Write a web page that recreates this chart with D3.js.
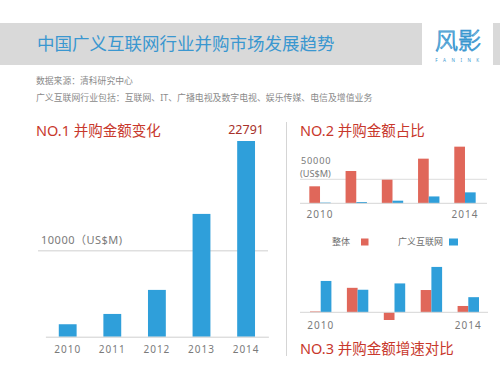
<!DOCTYPE html>
<html>
<head>
<meta charset="utf-8">
<script src="https://cdn.jsdelivr.net/npm/d3@7"></script>
<style>
  body { margin: 0; background: #fff; }
  svg text { font-family: "Noto Sans", "Noto Sans CJK SC", sans-serif; }
</style>
</head>
<body>
<div id="container"></div>
<script>
// data
const years = ["2010", "2011", "2012", "2013", "2014"];
const dealValue = [1450, 2650, 5450, 14300, 22791];          // 广义互联网, US$M
const totalValue = [35400, 67300, 49200, 93000, 118000];     // 整体, US$M
const totalGrowth = [3, 89, -28, 81, 23];                    // %
const netGrowth = [114, 82, 105, 165, 55];                   // %
const seriesNames = ["整体", "广义互联网"];

const width = 500;
const height = 375;
const blue = "#2f9fda";
const red = "#e0675a";
const titleRed = "#c8382c";
const grey = "#7a7a7a";

const svg = d3.select("#container").append("svg")
    .attr("width", width)
    .attr("height", height);

// header band
svg.append("rect").attr("x", 0).attr("y", 23).attr("width", 500).attr("height", 42).attr("fill", "#d9d9d9");
svg.append("rect").attr("x", 422).attr("y", 23).attr("width", 71).attr("height", 42).attr("fill", "#fff");
svg.append("text")
    .attr("x", 37).attr("y", 50)
    .attr("font-size", 17.5)
    .attr("fill", "#3a97d0")
    .text("中国广义互联网行业并购市场发展趋势");

// logo
svg.append("text")
    .attr("x", 458).attr("y", 49)
    .attr("text-anchor", "middle")
    .attr("font-size", 23)
    .attr("font-weight", 300)
    .attr("fill", "none")
    .attr("stroke", "#3a97d0")
    .attr("stroke-width", 0.9)
    .text("风影");
svg.append("text")
    .attr("x", 460).attr("y", 61.5)
    .attr("text-anchor", "middle")
    .attr("font-size", 4.5)
    .attr("letter-spacing", 5.5)
    .attr("fill", "#3a97d0")
    .text("FANINK");

// source lines
svg.append("text").attr("x", 36).attr("y", 84).attr("font-size", 8.8).attr("fill", "#8a8a8a")
    .text("数据来源：清科研究中心");
svg.append("text").attr("x", 36).attr("y", 100.5).attr("font-size", 8.9).attr("fill", "#8a8a8a")
    .text("广义互联网行业包括：互联网、IT、广播电视及数字电视、娱乐传媒、电信及增值业务");

// divider
svg.append("line").attr("x1", 286.5).attr("x2", 286.5).attr("y1", 122).attr("y2", 356)
    .attr("stroke", "#d5d5d5");

// ---------- NO.1 ----------
svg.append("text").attr("x", 36).attr("y", 135.5).attr("font-size", 14.5).attr("fill", titleRed)
    .text("NO.1 并购金额变化");

const x1 = d3.scaleBand().domain(years).range([45.4, 268.4]).paddingInner(0.6).paddingOuter(0.3);
const y1 = d3.scaleLinear().domain([0, 22791]).range([336.7, 141]);

svg.append("line")
    .attr("x1", 38).attr("x2", 268)
    .attr("y1", y1(10000)).attr("y2", y1(10000))
    .attr("stroke", "#cfcfcf");
svg.append("text").attr("x", 41).attr("y", y1(10000) - 7).attr("font-size", 11).attr("fill", grey)
    .attr("letter-spacing", 0.5)
    .text("10000（US$M)");

svg.append("g").selectAll("rect")
    .data(dealValue)
    .join("rect")
    .attr("x", (d, i) => x1(years[i]))
    .attr("y", d => y1(d))
    .attr("width", x1.bandwidth())
    .attr("height", d => y1(0) - y1(d))
    .attr("fill", blue);

svg.append("text")
    .attr("x", x1("2014") + x1.bandwidth() / 2)
    .attr("y", y1(22791) - 7)
    .attr("text-anchor", "middle")
    .attr("font-size", 12.5)
    .attr("fill", "#a8322a")
    .text(d3.max(dealValue));

const ax1 = svg.append("g")
    .attr("transform", `translate(0,${y1(0)})`)
    .call(d3.axisBottom(x1).tickSize(0).tickPadding(9));
ax1.select(".domain").attr("stroke", "#cfcfcf");
ax1.selectAll("text").attr("font-size", 10).attr("letter-spacing", 1).attr("fill", grey)
    .style("font-family", "'Noto Sans', sans-serif");

// ---------- NO.2 ----------
svg.append("text").attr("x", 300).attr("y", 135.5).attr("font-size", 14.5).attr("fill", titleRed)
    .text("NO.2 并购金额占比");

const x2 = d3.scaleBand().domain(years).range([301.9, 483.1]).paddingInner(0.41).paddingOuter(0.205);
const sub2 = d3.scaleBand().domain(seriesNames).range([0, x2.bandwidth()]);
const y2 = d3.scaleLinear().domain([0, 50000]).range([203.3, 179.3]);

svg.append("line")
    .attr("x1", 300).attr("x2", 487)
    .attr("y1", y2(50000)).attr("y2", y2(50000))
    .attr("stroke", "#dcdcdc");
svg.append("text").attr("x", 301).attr("y", 163.5).attr("font-size", 9.2).attr("fill", grey)
    .attr("letter-spacing", 0.8).text("50000");
svg.append("text").attr("x", 300).attr("y", 176.5).attr("font-size", 9.2).attr("fill", grey)
    .text("(US$M)");

const g2 = svg.append("g");
g2.selectAll("rect.total")
    .data(totalValue)
    .join("rect")
    .attr("class", "total")
    .attr("x", (d, i) => x2(years[i]) + sub2("整体"))
    .attr("y", d => y2(d))
    .attr("width", sub2.bandwidth())
    .attr("height", d => y2(0) - y2(d))
    .attr("fill", red);
g2.selectAll("rect.net")
    .data(dealValue)
    .join("rect")
    .attr("class", "net")
    .attr("x", (d, i) => x2(years[i]) + sub2("广义互联网"))
    .attr("y", d => y2(d))
    .attr("width", sub2.bandwidth())
    .attr("height", d => y2(0) - y2(d))
    .attr("fill", blue);

const ax2 = svg.append("g")
    .attr("transform", `translate(0,${y2(0)})`)
    .call(d3.axisBottom(x2).tickValues(["2010", "2014"]).tickSize(0).tickPadding(8));
ax2.select(".domain").attr("stroke", "#d5d5d5").attr("d", "M300,0H487");
ax2.selectAll("text").attr("font-size", 10).attr("letter-spacing", 1).attr("fill", grey);

// legend
const legend = svg.append("g").selectAll("g")
    .data(seriesNames)
    .join("g")
    .attr("transform", (d, i) => `translate(${i === 0 ? 332 : 398},242)`);
legend.append("text")
    .attr("y", 3.2)
    .attr("font-size", 9)
    .attr("fill", "#6e6e6e")
    .text(d => d);
legend.append("rect")
    .attr("x", (d, i) => i === 0 ? 29 : 51)
    .attr("y", -3.5)
    .attr("width", (d, i) => i === 0 ? 7.5 : 9)
    .attr("height", 7)
    .attr("fill", (d, i) => i === 0 ? red : blue);

// ---------- NO.3 ----------
const x3 = d3.scaleBand().domain(years).range([302.25, 486.75]).paddingInner(0.42).paddingOuter(0.21);
const sub3 = d3.scaleBand().domain(seriesNames).range([0, x3.bandwidth()]);
const y3 = d3.scaleLinear().domain([0, 100]).range([312.3, 284.8]);

const g3 = svg.append("g");
g3.selectAll("rect.total")
    .data(totalGrowth)
    .join("rect")
    .attr("class", "total")
    .attr("x", (d, i) => x3(years[i]) + sub3("整体"))
    .attr("y", d => y3(Math.max(0, d)))
    .attr("width", sub3.bandwidth())
    .attr("height", d => Math.abs(y3(0) - y3(d)))
    .attr("fill", red);
g3.selectAll("rect.net")
    .data(netGrowth)
    .join("rect")
    .attr("class", "net")
    .attr("x", (d, i) => x3(years[i]) + sub3("广义互联网"))
    .attr("y", d => y3(Math.max(0, d)))
    .attr("width", sub3.bandwidth())
    .attr("height", d => Math.abs(y3(0) - y3(d)))
    .attr("fill", blue);

const ax3 = svg.append("g")
    .attr("transform", `translate(0,${y3(0)})`)
    .call(d3.axisBottom(x3).tickValues(["2010", "2014"]).tickSize(0).tickPadding(10));
ax3.select(".domain").attr("stroke", "#d5d5d5").attr("d", "M300,0H488");
ax3.selectAll("text").attr("font-size", 10).attr("letter-spacing", 1).attr("fill", grey);

svg.append("text").attr("x", 300).attr("y", 353.5).attr("font-size", 14.5).attr("fill", titleRed)
    .text("NO.3 并购金额增速对比");
</script>
</body>
</html>
